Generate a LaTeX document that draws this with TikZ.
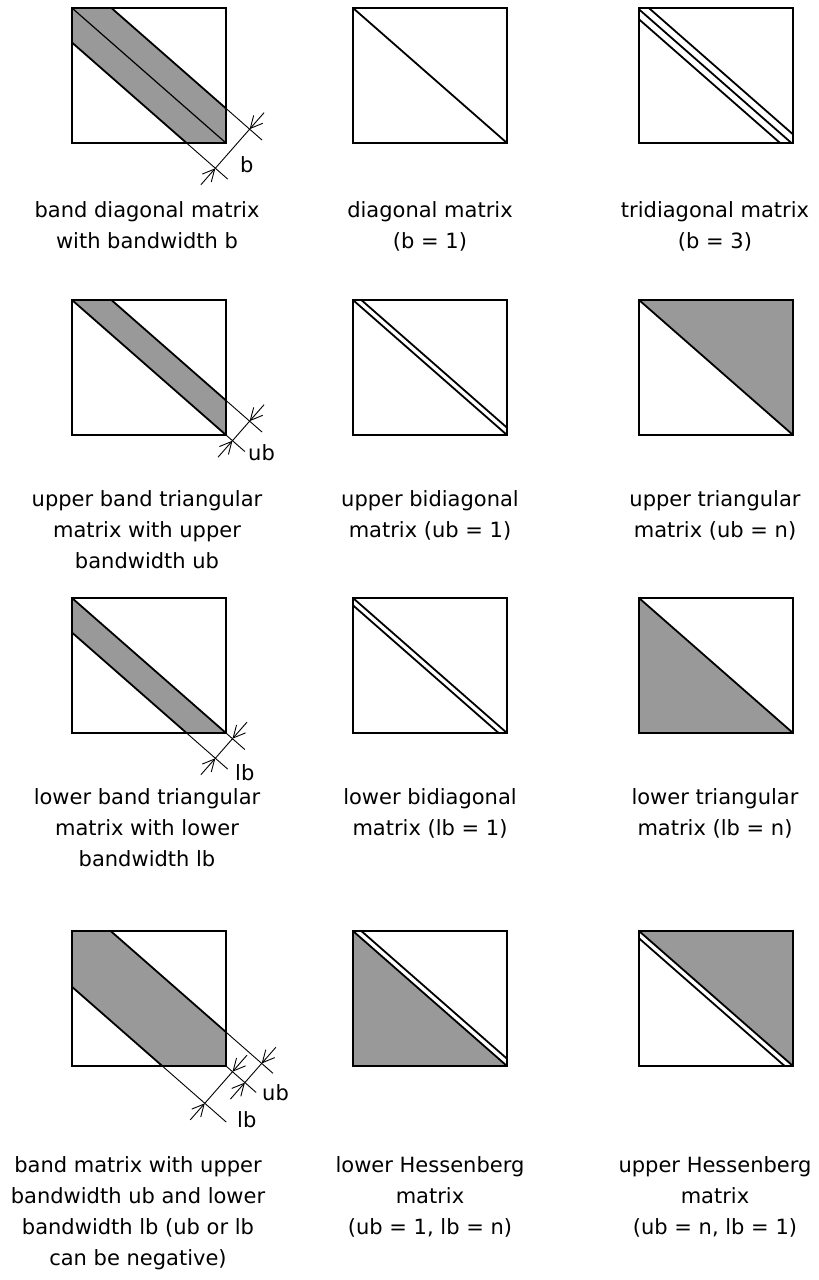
\documentclass[tikz,border=0pt]{standalone}
\usepackage{fontspec}
\setmainfont{DejaVu Sans}
\usetikzlibrary{arrows.meta}
\definecolor{bandgray}{RGB}{153,153,153}
\begin{document}
\begin{tikzpicture}[x=1pt,y=-1pt,
  diagsys/.style={x={(0.7517pt,-0.659pt)},y={(0.659pt,0.7517pt)}},
  mbox/.style={draw,line width=1.8pt},
  bandline/.style={line width=1.8pt},
  cdiag/.style={line width=1.2pt},
  dim/.style={line width=0.9pt},
  dimarrow/.style={dim,-{Straight Barb[length=12pt,width=12pt]}},
  shade/.style={fill=bandgray},
  txt/.style={font=\fontsize{21}{31}\selectfont,anchor=base,inner sep=0pt},
  lbl/.style={font=\fontsize{21}{31}\selectfont,anchor=base west,inner sep=0pt},
]
\useasboundingbox (0,0) rectangle (819,1280);

% ---------- Row 1, col 1: band diagonal ----------
\begin{scope}[shift={(72,8)}]
  \begin{scope}
    \clip (0,0) rectangle (154,135);
    \begin{scope}[diagsys]
      \fill[shade] (-30,26) -- (260,26) -- (260,-26) -- (-30,-26) -- cycle;
      \draw[bandline] (-30,26) -- (260,26) (-30,-26) -- (260,-26);
      \draw[cdiag] (-30,0) -- (260,0);
    \end{scope}
  \end{scope}
  \draw[mbox] (0,0) rectangle (154,135);
  \begin{scope}[diagsys]
    \draw[dim] (182.1,26) -- (230,26) (175.2,-26) -- (230,-26) (213.5,26) -- (213.5,-26);
    \draw[dimarrow] (213.5,48) -- (213.5,26);
    \draw[dimarrow] (213.5,-48) -- (213.5,-26);
  \end{scope}
\end{scope}
\node[lbl] (lbA) at (240,172) {b};

% ---------- Row 1, col 2: diagonal ----------
\begin{scope}[shift={(353,8)}]
  \draw[mbox] (0,0) rectangle (154,135);
  \draw[bandline] (0,0) -- (154,135);
\end{scope}

% ---------- Row 1, col 3: tridiagonal ----------
\begin{scope}[shift={(639,8)}]
  \begin{scope}
    \clip (0,0) rectangle (154,135);
    \begin{scope}[diagsys]
      \draw[bandline] (-30,6.5) -- (260,6.5) (-30,-1) -- (260,-1) (-30,-8.5) -- (260,-8.5);
    \end{scope}
  \end{scope}
  \draw[mbox] (0,0) rectangle (154,135);
\end{scope}

% ---------- Row 2, col 1: upper band triangular ----------
\begin{scope}[shift={(72,300)}]
  \begin{scope}
    \clip (0,0) rectangle (154,135);
    \begin{scope}[diagsys]
      \fill[shade] (-30,26) -- (260,26) -- (260,0) -- (-30,0) -- cycle;
      \draw[bandline] (-30,26) -- (260,26) (-30,0) -- (260,0);
    \end{scope}
  \end{scope}
  \draw[mbox] (0,0) rectangle (154,135);
  \begin{scope}[diagsys]
    \draw[dim] (182.1,26) -- (230,26) (204.86,0) -- (230,0) (213.5,26) -- (213.5,0);
    \draw[dimarrow] (213.5,48) -- (213.5,26);
    \draw[dimarrow] (213.5,-22) -- (213.5,0);
  \end{scope}
\end{scope}
\node[lbl] (lbB) at (248,460) {ub};

% ---------- Row 2, col 2: upper bidiagonal ----------
\begin{scope}[shift={(353,300)}]
  \begin{scope}
    \clip (0,0) rectangle (154,135);
    \begin{scope}[diagsys]
      \draw[bandline] (-30,0) -- (260,0) (-30,5.5) -- (260,5.5);
    \end{scope}
  \end{scope}
  \draw[mbox] (0,0) rectangle (154,135);
\end{scope}

% ---------- Row 2, col 3: upper triangular ----------
\begin{scope}[shift={(639,300)}]
  \fill[shade] (0,0) -- (154,0) -- (154,135) -- cycle;
  \draw[bandline] (0,0) -- (154,135);
  \draw[mbox] (0,0) rectangle (154,135);
\end{scope}

% ---------- Row 3, col 1: lower band triangular ----------
\begin{scope}[shift={(72,598)}]
  \begin{scope}
    \clip (0,0) rectangle (154,135);
    \begin{scope}[diagsys]
      \fill[shade] (-30,0) -- (260,0) -- (260,-26) -- (-30,-26) -- cycle;
      \draw[bandline] (-30,0) -- (260,0) (-30,-26) -- (260,-26);
    \end{scope}
  \end{scope}
  \draw[mbox] (0,0) rectangle (154,135);
  \begin{scope}[diagsys]
    \draw[dim] (204.86,0) -- (230,0) (175.2,-26) -- (230,-26) (213.5,0) -- (213.5,-26);
    \draw[dimarrow] (213.5,22) -- (213.5,0);
    \draw[dimarrow] (213.5,-48) -- (213.5,-26);
  \end{scope}
\end{scope}
\node[lbl] (lbC) at (235,780) {lb};

% ---------- Row 3, col 2: lower bidiagonal ----------
\begin{scope}[shift={(353,598)}]
  \begin{scope}
    \clip (0,0) rectangle (154,135);
    \begin{scope}[diagsys]
      \draw[bandline] (-30,0) -- (260,0) (-30,-5.5) -- (260,-5.5);
    \end{scope}
  \end{scope}
  \draw[mbox] (0,0) rectangle (154,135);
\end{scope}

% ---------- Row 3, col 3: lower triangular ----------
\begin{scope}[shift={(639,598)}]
  \fill[shade] (0,0) -- (0,135) -- (154,135) -- cycle;
  \draw[bandline] (0,0) -- (154,135);
  \draw[mbox] (0,0) rectangle (154,135);
\end{scope}

% ---------- Row 4, col 1: band matrix ----------
\begin{scope}[shift={(72,931)}]
  \begin{scope}
    \clip (0,0) rectangle (154,135);
    \begin{scope}[diagsys]
      \fill[shade] (-30,25.5) -- (260,25.5) -- (260,-42) -- (-30,-42) -- cycle;
      \draw[bandline] (-30,25.5) -- (260,25.5) (-30,-42) -- (260,-42);
    \end{scope}
  \end{scope}
  \draw[mbox] (0,0) rectangle (154,135);
  \begin{scope}[diagsys]
    \draw[dim] (182.5,25.5) -- (245,25.5) (204.86,0) -- (245,0) (156.9,-42) -- (242,-42);
    \draw[dim] (230,25.5) -- (230,0);
    \draw[dimarrow] (230,47) -- (230,25.5);
    \draw[dimarrow] (230,-22) -- (230,0);
    \draw[dim] (213.5,0) -- (213.5,-42);
    \draw[dimarrow] (213.5,22) -- (213.5,0);
    \draw[dimarrow] (213.5,-64) -- (213.5,-42);
  \end{scope}
\end{scope}
\node[lbl] (lbD) at (262,1100) {ub};
\node[lbl] (lbE) at (237,1127) {lb};

% ---------- Row 4, col 2: lower Hessenberg ----------
\begin{scope}[shift={(353,931)}]
  \fill[shade] (0,0) -- (0,135) -- (154,135) -- cycle;
  \begin{scope}
    \clip (0,0) rectangle (154,135);
    \begin{scope}[diagsys]
      \draw[bandline] (-30,0) -- (260,0) (-30,5.5) -- (260,5.5);
    \end{scope}
  \end{scope}
  \draw[mbox] (0,0) rectangle (154,135);
\end{scope}

% ---------- Row 4, col 3: upper Hessenberg ----------
\begin{scope}[shift={(639,931)}]
  \fill[shade] (0,0) -- (154,0) -- (154,135) -- cycle;
  \begin{scope}
    \clip (0,0) rectangle (154,135);
    \begin{scope}[diagsys]
      \draw[bandline] (-30,0) -- (260,0) (-30,-5.5) -- (260,-5.5);
    \end{scope}
  \end{scope}
  \draw[mbox] (0,0) rectangle (154,135);
\end{scope}

% ---------- Captions ----------
\node[txt] (c11a) at (147,217) {band diagonal matrix};
\node[txt] (c11b) at (147,248) {with bandwidth b};
\node[txt] (c12a) at (430,217) {diagonal matrix};
\node[txt] (c12b) at (430,248) {(b = 1)};
\node[txt] (c13a) at (715,217) {tridiagonal matrix};
\node[txt] (c13b) at (715,248) {(b = 3)};

\node[txt] (c21a) at (147,506) {upper band triangular};
\node[txt] (c21b) at (147,537) {matrix with upper};
\node[txt] (c21c) at (147,568) {bandwidth ub};
\node[txt] (c22a) at (430,506) {upper bidiagonal};
\node[txt] (c22b) at (430,537) {matrix (ub = 1)};
\node[txt] (c23a) at (715,506) {upper triangular};
\node[txt] (c23b) at (715,537) {matrix (ub = n)};

\node[txt] (c31a) at (147,804) {lower band triangular};
\node[txt] (c31b) at (147,835) {matrix with lower};
\node[txt] (c31c) at (147,866) {bandwidth lb};
\node[txt] (c32a) at (430,804) {lower bidiagonal};
\node[txt] (c32b) at (430,835) {matrix (lb = 1)};
\node[txt] (c33a) at (715,804) {lower triangular};
\node[txt] (c33b) at (715,835) {matrix (lb = n)};

\node[txt] (c41a) at (138,1172) {band matrix with upper};
\node[txt] (c41b) at (138,1203) {bandwidth ub and lower};
\node[txt] (c41c) at (138,1234) {bandwidth lb (ub or lb};
\node[txt] (c41d) at (138,1265) {can be negative)};
\node[txt] (c42a) at (430,1172) {lower Hessenberg};
\node[txt] (c42b) at (430,1203) {matrix};
\node[txt] (c42c) at (430,1234) {(ub = 1, lb = n)};
\node[txt] (c43a) at (715,1172) {upper Hessenberg};
\node[txt] (c43b) at (715,1203) {matrix};
\node[txt] (c43c) at (715,1234) {(ub = n, lb = 1)};
\end{tikzpicture}
\end{document}
